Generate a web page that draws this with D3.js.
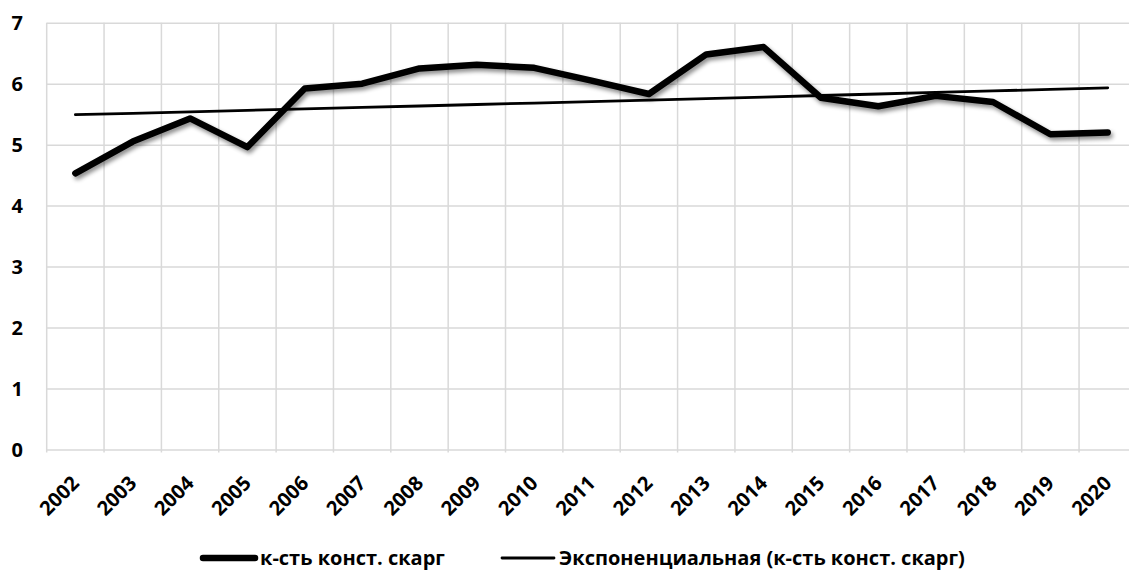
<!DOCTYPE html>
<html>
<head>
<meta charset="utf-8">
<script src="https://cdn.jsdelivr.net/npm/d3@7"></script>
<style>
  html, body { margin: 0; padding: 0; background: #fff; overflow: hidden; }
  #chart svg { display: block; }
</style>
</head>
<body>
<div id="chart"></div>
<script>
// Number of constitutional complaints per year, with Excel-style exponential trend.

const years = ["2002","2003","2004","2005","2006","2007","2008","2009","2010","2011",
               "2012","2013","2014","2015","2016","2017","2018","2019","2020"];

const complaints = [4.53, 5.05, 5.43, 4.96, 5.92, 6.00, 6.25, 6.31, 6.26, 6.05,
                    5.83, 6.48, 6.60, 5.77, 5.63, 5.80, 5.70, 5.17, 5.20];

const yTicks = [0, 1, 2, 3, 4, 5, 6, 7];

const seriesLabel = "к-сть конст. скарг";
const trendLabel  = "Экспоненциальная (к-сть конст. скарг)";

const width  = 1129;
const height = 572;
const font   = "'Open Sans', 'DejaVu Sans', sans-serif";

// plot area runs slightly past the right edge of the picture, like the source
const plot = { left: 46.7, right: 1136.4, top: 22.7, bottom: 449.5 };

const xScale = d3.scaleBand()
  .domain(years)
  .range([plot.left, plot.right]);

const yScale = d3.scaleLinear()
  .domain([0, 7])
  .range([plot.bottom, plot.top]);

const cx = year => xScale(year) + xScale.bandwidth() / 2;

// exponential trendline: least squares on ln(y) against the category index
const idx   = complaints.map((v, i) => i + 1);
const lnY   = complaints.map(v => Math.log(v));
const mx    = d3.mean(idx);
const my    = d3.mean(lnY);
const slope = d3.sum(idx, (x, i) => (x - mx) * (lnY[i] - my)) / d3.sum(idx, x => (x - mx) ** 2);
const icept = my - slope * mx;
const trend = idx.map(x => Math.exp(icept + slope * x));

const svg = d3.select("#chart")
  .append("svg")
  .attr("width", width)
  .attr("height", height);

svg.append("rect")
  .attr("width", width)
  .attr("height", height)
  .attr("fill", "#ffffff");

const defs = svg.append("defs");
const shadow = defs.append("filter")
  .attr("id", "shadow")
  .attr("x", "-5%").attr("y", "-20%")
  .attr("width", "110%").attr("height", "160%");
shadow.append("feDropShadow")
  .attr("dx", 2)
  .attr("dy", 3)
  .attr("stdDeviation", 2.2)
  .attr("flood-color", "#000")
  .attr("flood-opacity", 0.45);

// horizontal gridlines
svg.append("g")
  .attr("transform", `translate(${plot.left}, 0)`)
  .call(d3.axisLeft(yScale).tickValues(yTicks).tickSize(-(plot.right - plot.left)).tickFormat(""))
  .call(axis => axis.select(".domain").remove())
  .call(axis => axis.selectAll(".tick line")
    .attr("stroke", "#d9d9d9")
    .attr("stroke-width", 1.5));

// vertical gridlines on the category boundaries
const boundaries = years.map(y => xScale(y)).concat([plot.right]);
svg.append("g")
  .selectAll("line")
  .data(boundaries)
  .join("line")
  .attr("x1", d => d).attr("x2", d => d)
  .attr("y1", plot.top).attr("y2", plot.bottom + 3)
  .attr("stroke", "#d9d9d9")
  .attr("stroke-width", 1.5);

// y tick labels
svg.append("g")
  .selectAll("text")
  .data(yTicks)
  .join("text")
  .attr("x", 23)
  .attr("y", d => yScale(d))
  .attr("dy", "0.36em")
  .attr("text-anchor", "end")
  .attr("font-family", font)
  .attr("font-weight", 700)
  .attr("font-size", "20px")
  .attr("fill", "#000")
  .text(d => d);

// x tick labels, rotated 45°
svg.append("g")
  .selectAll("text")
  .data(years)
  .join("text")
  .attr("transform", d => `translate(${cx(d) + 5}, ${plot.bottom + 35}) rotate(-45)`)
  .attr("text-anchor", "end")
  .attr("font-family", font)
  .attr("font-weight", 700)
  .attr("font-size", "20px")
  .attr("fill", "#000")
  .text(d => d);

// trendline
const trendLine = d3.line()
  .x((v, i) => cx(years[i]))
  .y(v => yScale(v));

svg.append("path")
  .datum(trend)
  .attr("fill", "none")
  .attr("stroke", "#000")
  .attr("stroke-width", 2.8)
  .attr("stroke-linecap", "round")
  .attr("d", trendLine);

// data series
const dataLine = d3.line()
  .x((v, i) => cx(years[i]))
  .y(v => yScale(v));

svg.append("path")
  .datum(complaints)
  .attr("fill", "none")
  .attr("stroke", "#000")
  .attr("stroke-width", 6.5)
  .attr("stroke-linejoin", "round")
  .attr("stroke-linecap", "round")
  .attr("filter", "url(#shadow)")
  .attr("d", dataLine);

// legend
const legendY = 558;
const legend = [
  { label: seriesLabel, x: 203, lineWidth: 6.5 },
  { label: trendLabel,  x: 502, lineWidth: 2.8 },
];

legend.forEach(item => {
  svg.append("line")
    .attr("x1", item.x).attr("x2", item.x + 52)
    .attr("y1", legendY).attr("y2", legendY)
    .attr("stroke", "#000")
    .attr("stroke-width", item.lineWidth)
    .attr("stroke-linecap", "round");

  svg.append("text")
    .attr("x", item.x + 57)
    .attr("y", legendY)
    .attr("dy", "0.36em")
    .attr("font-family", font)
    .attr("font-weight", 700)
    .attr("font-size", "20px")
    .attr("fill", "#000")
    .text(item.label);
});
</script>
</body>
</html>
